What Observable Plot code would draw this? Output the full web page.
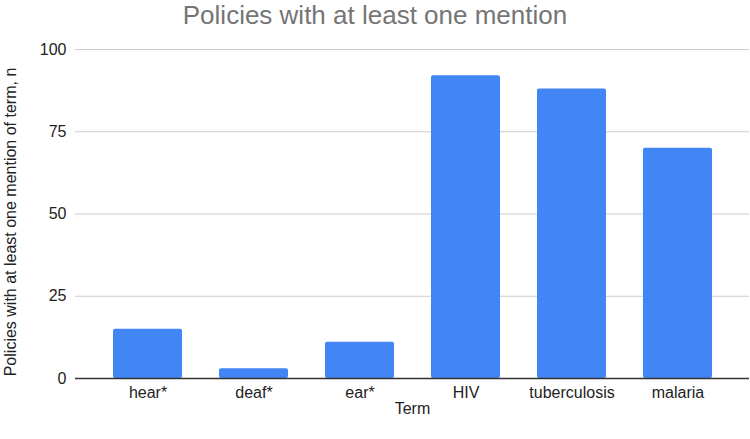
<!DOCTYPE html>
<html>
<head>
<meta charset="utf-8">
<script src="https://cdn.jsdelivr.net/npm/d3@7"></script>
<script src="https://cdn.jsdelivr.net/npm/@observablehq/plot@0.6"></script>
<style>
  html, body { margin: 0; padding: 0; background: #fff; }
  #title { width: 750px; height: 30px; line-height: normal; text-align: center;
    font-family: "Liberation Sans", Arial, sans-serif; font-size: 26px; color: #757575; }
  #chart svg { display: block; }
</style>
</head>
<body>
<div id="title">Policies with at least one mention</div>
<div id="chart"></div>
<script>
const terms = ["hear*", "deaf*", "ear*", "HIV", "tuberculosis", "malaria"];
const counts = [15, 3, 11, 92, 88, 70];
const yTicks = [0, 25, 50, 75, 100];
const yLabel = "Policies with at least one mention of term, n";
const xLabel = "Term";

const data = terms.map((t, i) => ({term: t, n: counts[i]}));

const chart = Plot.plot({
  width: 750,
  height: 409,
  marginTop: 19,
  marginBottom: 61,
  marginLeft: 75,
  marginRight: 1,
  style: {fontFamily: "'Liberation Sans', Arial, sans-serif", fontSize: "16px", color: "#222", background: "#fff"},
  x: {type: "band", domain: terms, paddingInner: 0.352, paddingOuter: 0.34},
  y: {domain: [0, 100]},
  marks: [
    Plot.ruleY(yTicks.filter(d => d > 0), {stroke: "#cccccc", strokeWidth: 1}),
    Plot.barY(data, {x: "term", y: "n", fill: "#4285F4", rx: 2}),
    Plot.ruleY([0], {stroke: "#333", strokeWidth: 1.5}),
    Plot.axisY({ticks: yTicks, tickSize: 0, tickPadding: 9, label: null, fontSize: 16}),
    Plot.text([yLabel], {text: d => d, frameAnchor: "left", rotate: -90, textAnchor: "middle", lineAnchor: "middle", dx: -65, dy: 8, fontSize: 16, fill: "#222"}),
    Plot.axisX({tickSize: 0, tickPadding: 8, label: xLabel, labelAnchor: "center", labelArrow: "none", labelOffset: 35, fontSize: 16})
  ]
});
document.getElementById("chart").appendChild(chart);
</script>
</body>
</html>
